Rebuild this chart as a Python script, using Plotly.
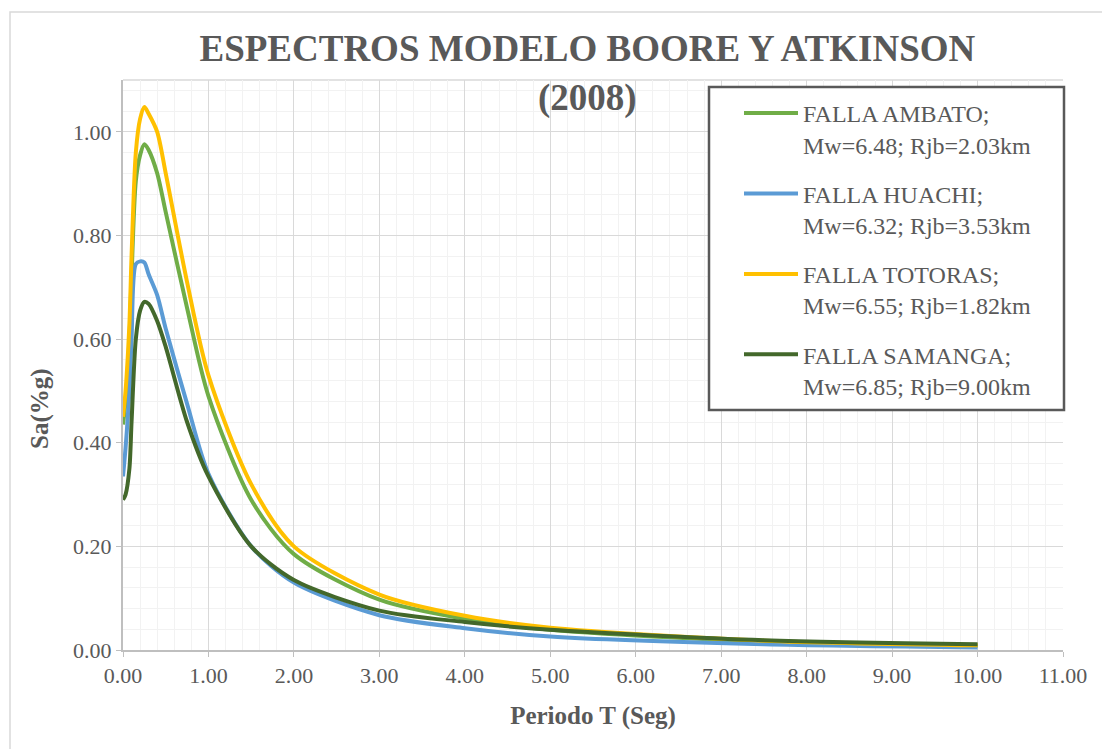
import plotly.graph_objects as go

# Periods (s) at which the spectral ordinates were evaluated
periodo = [0.0, 0.03, 0.075, 0.1, 0.15, 0.2, 0.25, 0.3, 0.4, 0.5, 0.75,
           1.0, 1.5, 2.0, 3.0, 4.0, 5.0, 7.5, 10.0]

# Spectral acceleration Sa (%g) per fault source
sa_ambato = [0.435, 0.48, 0.60, 0.72, 0.905, 0.955, 0.976, 0.965, 0.92, 0.845, 0.66,
             0.49, 0.29, 0.185, 0.097, 0.060, 0.039, 0.016, 0.008]
sa_huachi = [0.335, 0.39, 0.50, 0.60, 0.745, 0.750, 0.748, 0.725, 0.685, 0.62, 0.475,
             0.34, 0.20, 0.130, 0.067, 0.042, 0.026, 0.011, 0.005]
sa_totoras = [0.45, 0.50, 0.63, 0.76, 0.96, 1.025, 1.048, 1.035, 1.00, 0.92, 0.71,
              0.53, 0.32, 0.200, 0.107, 0.066, 0.043, 0.018, 0.009]
sa_samanga = [0.29, 0.30, 0.35, 0.44, 0.60, 0.655, 0.672, 0.668, 0.635, 0.585, 0.44,
              0.335, 0.20, 0.135, 0.076, 0.054, 0.039, 0.019, 0.011]

series_names = [
    "FALLA AMBATO;<br>Mw=6.48; Rjb=2.03km",
    "FALLA HUACHI;<br>Mw=6.32; Rjb=3.53km",
    "FALLA TOTORAS;<br>Mw=6.55; Rjb=1.82km",
    "FALLA SAMANGA;<br>Mw=6.85; Rjb=9.00km",
]
series_values = [sa_ambato, sa_huachi, sa_totoras, sa_samanga]
series_colors = ["#70AD47", "#5B9BD5", "#FFC000", "#43682B"]

x_ticks = [float(v) for v in range(0, 12)]
y_ticks = [0.0, 0.2, 0.4, 0.6, 0.8, 1.0]

FONT = "Liberation Serif"
GREY = "#595959"

# Plot area in pixels (used to place the legend frame in paper units)
PL, PR, PT, PB = 123, 1063, 80, 650


def px_x(px):
    return (px - PL) / (PR - PL)


def px_y(py):
    return (PB - py) / (PB - PT)


fig = go.Figure()
for i, (name, vals, col) in enumerate(zip(series_names, series_values, series_colors)):
    fig.add_trace(go.Scatter(
        x=periodo, y=vals, name=name, mode="lines",
        line=dict(color=col, width=4, shape="spline", smoothing=0.8),
        legendgroup=f"g{i}",
    ))

fig.update_layout(
    width=1102, height=749,
    margin=dict(l=PL, r=1102 - PR, t=PT, b=749 - PB),
    paper_bgcolor="white", plot_bgcolor="white",
    font=dict(family=FONT, color=GREY, size=22),
    title=dict(
        text="ESPECTROS MODELO BOORE Y ATKINSON<br>(2008)",
        font=dict(family=FONT, size=37, color=GREY, weight="bold"),
        x=0.533, xref="container", xanchor="center",
        y=0.918, yref="container", yanchor="top",
    ),
    legend=dict(
        x=px_x(711), y=px_y(91), xanchor="left", yanchor="top",
        bgcolor="rgba(0,0,0,0)", borderwidth=0,
        font=dict(family=FONT, size=24, color=GREY),
        tracegroupgap=15, traceorder="grouped", itemwidth=54,
        indentation=28, valign="top",
    ),
    showlegend=True,
)

fig.update_xaxes(
    range=[0, 11], tickvals=x_ticks, tickformat=".2f",
    showgrid=True, gridcolor="#D9D9D9", gridwidth=1,
    minor=dict(dtick=0.2, showgrid=True, gridcolor="#F2F2F2", gridwidth=1),
    showline=True, linecolor="#BFBFBF", linewidth=2,
    ticks="outside", ticklen=5, tickcolor="#BFBFBF",
    zeroline=False,
    tickfont=dict(family=FONT, size=22, color=GREY),
    title=dict(text="Periodo T (Seg)", standoff=19,
               font=dict(family=FONT, size=25, color=GREY, weight="bold")),
)
fig.update_yaxes(
    range=[0, 1.1], tickvals=y_ticks, tickformat=".2f",
    showgrid=True, gridcolor="#D9D9D9", gridwidth=1,
    minor=dict(dtick=0.04, showgrid=True, gridcolor="#F2F2F2", gridwidth=1),
    showline=True, linecolor="#BFBFBF", linewidth=2,
    ticks="outside", ticklen=5, tickcolor="#BFBFBF",
    zeroline=False,
    tickfont=dict(family=FONT, size=22, color=GREY),
)

# Vertical axis title, placed as in the original layout
fig.add_annotation(
    text="Sa(%g)", textangle=-90, showarrow=False,
    xref="paper", yref="paper",
    x=px_x(40), y=px_y(409),
    xanchor="center", yanchor="middle",
    font=dict(family=FONT, size=25, color=GREY, weight="bold"),
)

# Plot-area top edge and outer chart frame
fig.add_shape(type="line", xref="paper", yref="paper", x0=0, x1=1, y0=1, y1=1,
              line=dict(color="#D9D9D9", width=1.5), layer="below")
fig.add_shape(type="rect", xref="paper", yref="paper",
              x0=px_x(10), x1=1.06, y0=-0.2, y1=px_y(12),
              line=dict(color="#D9D9D9", width=1.5), layer="below")

# Legend frame with white fill
fig.add_shape(type="rect", xref="paper", yref="paper",
              x0=px_x(709), x1=px_x(1064), y0=px_y(410), y1=px_y(87),
              fillcolor="white", line=dict(color=GREY, width=2.5), layer="above")

fig.write_html("out.html")
